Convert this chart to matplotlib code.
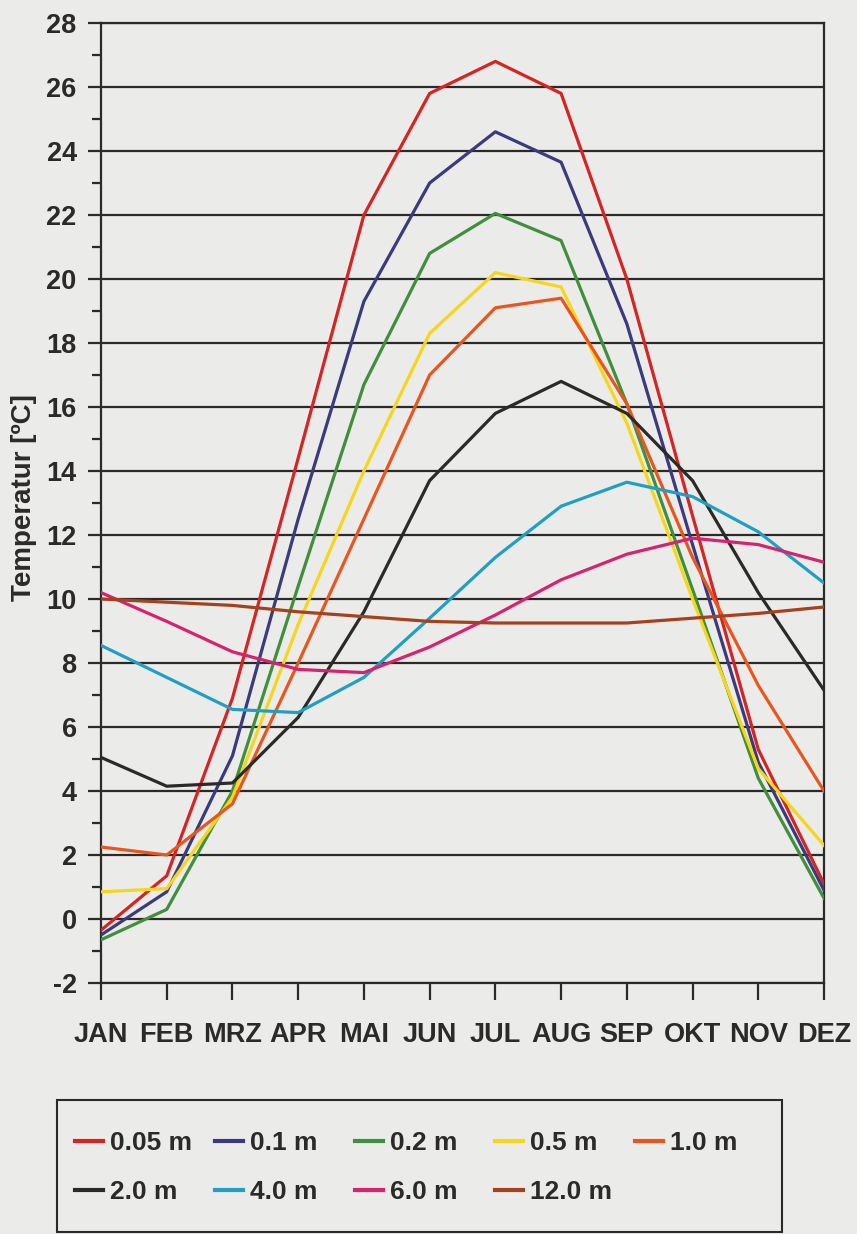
import matplotlib
matplotlib.use("Agg")
import matplotlib.pyplot as plt
from matplotlib.ticker import MultipleLocator
from matplotlib.patches import Rectangle

# Monatsmittel der Bodentemperatur in verschiedenen Tiefen
months = ["JAN", "FEB", "MRZ", "APR", "MAI", "JUN",
          "JUL", "AUG", "SEP", "OKT", "NOV", "DEZ"]

depth_labels = ["0.05 m", "0.1 m", "0.2 m", "0.5 m", "1.0 m",
                "2.0 m", "4.0 m", "6.0 m", "12.0 m"]

t_005 = [-0.35, 1.35, 6.9, 14.4, 22.0, 25.8, 26.8, 25.8, 20.0, 12.6, 5.3, 1.1]
t_01 = [-0.5, 0.85, 5.1, 12.5, 19.3, 23.0, 24.6, 23.65, 18.6, 11.7, 4.9, 0.9]
t_02 = [-0.65, 0.3, 4.0, 10.4, 16.7, 20.8, 22.05, 21.2, 16.1, 10.3, 4.4, 0.65]
t_05 = [0.85, 0.95, 3.8, 9.2, 14.0, 18.3, 20.2, 19.75, 15.5, 10.0, 4.7, 2.3]
t_10 = [2.25, 2.0, 3.6, 8.0, 12.5, 17.0, 19.1, 19.4, 16.1, 11.3, 7.3, 4.0]
t_20 = [5.05, 4.15, 4.25, 6.3, 9.6, 13.7, 15.8, 16.8, 15.8, 13.7, 10.2, 7.15]
t_40 = [8.55, 7.55, 6.55, 6.45, 7.55, 9.4, 11.3, 12.9, 13.65, 13.2, 12.1, 10.5]
t_60 = [10.2, 9.3, 8.35, 7.8, 7.7, 8.5, 9.5, 10.6, 11.4, 11.9, 11.7, 11.15]
t_120 = [10.0, 9.9, 9.8, 9.6, 9.45, 9.3, 9.25, 9.25, 9.25, 9.4, 9.55, 9.75]

series = [t_005, t_01, t_02, t_05, t_10, t_20, t_40, t_60, t_120]
colors = ["#d42424", "#3b3a7e", "#3f8f3c", "#f6d61a", "#e8561e",
          "#2b2a28", "#1f9fc4", "#d6236f", "#a3421c"]

bg = "#ebebea"
ink = "#2b2a28"

plt.rcParams["font.family"] = ["Liberation Sans", "DejaVu Sans"]
plt.rcParams["font.weight"] = "bold"
plt.rcParams["axes.unicode_minus"] = False

W, H = 857, 1234
fig = plt.figure(figsize=(W / 100, H / 100), dpi=100, facecolor=bg)
ax = fig.add_axes([101 / W, 1 - 983 / H, 723 / W, 960 / H])
ax.set_facecolor(bg)

x = list(range(len(months)))
lines = []
for vals, lab, col in zip(series, depth_labels, colors):
    ln, = ax.plot(x, vals, color=col, lw=2.3, label=lab, zorder=3)
    lines.append(ln)

ax.set_xlim(0, 11)
ax.set_ylim(-2, 28)
ax.yaxis.set_major_locator(MultipleLocator(2))
ax.yaxis.set_minor_locator(MultipleLocator(1))
ax.set_xticks(x)
ax.set_xticklabels(months)
ax.grid(True, axis="y", which="major", color=ink, lw=1.6, zorder=1)

for s in ax.spines.values():
    s.set_color(ink)
    s.set_linewidth(1.6)

ax.tick_params(axis="y", which="major", direction="out", length=9.5, width=1.6,
               color=ink, labelsize=19.5, pad=8, labelcolor=ink)
ax.tick_params(axis="y", which="minor", direction="out", length=6.5, width=1.6, color=ink)
ax.tick_params(axis="x", direction="out", length=12, width=1.6, color=ink,
               labelsize=19.5, pad=16, labelcolor=ink)

ax.set_ylabel("Temperatur [ºC]", fontsize=20, fontweight="bold", color=ink)
ax.yaxis.set_label_coords(-0.088, 0.506)

# Legende: feste Spalten wie im Original (5 oben, 4 unten)
fig.add_artist(Rectangle((57 / W, 1 - 1232 / H), 725 / W, 132 / H,
                         transform=fig.transFigure, facecolor=bg,
                         edgecolor=ink, lw=1.5))
for i in range(5):
    hs = [lines[i]] + ([lines[i + 5]] if i + 5 < len(lines) else [])
    leg = fig.legend(handles=hs, loc="upper left",
                     bbox_to_anchor=((75 + 140 * i) / W, 1 - 1131 / H),
                     frameon=False, fontsize=19, handlelength=1.05,
                     handletextpad=0.28, borderpad=0, borderaxespad=0,
                     labelspacing=0.95)
    for h in leg.get_lines():
        h.set_linewidth(3)
    for t in leg.get_texts():
        t.set_color(ink)

fig.savefig("out.png", dpi=100, facecolor=bg)
